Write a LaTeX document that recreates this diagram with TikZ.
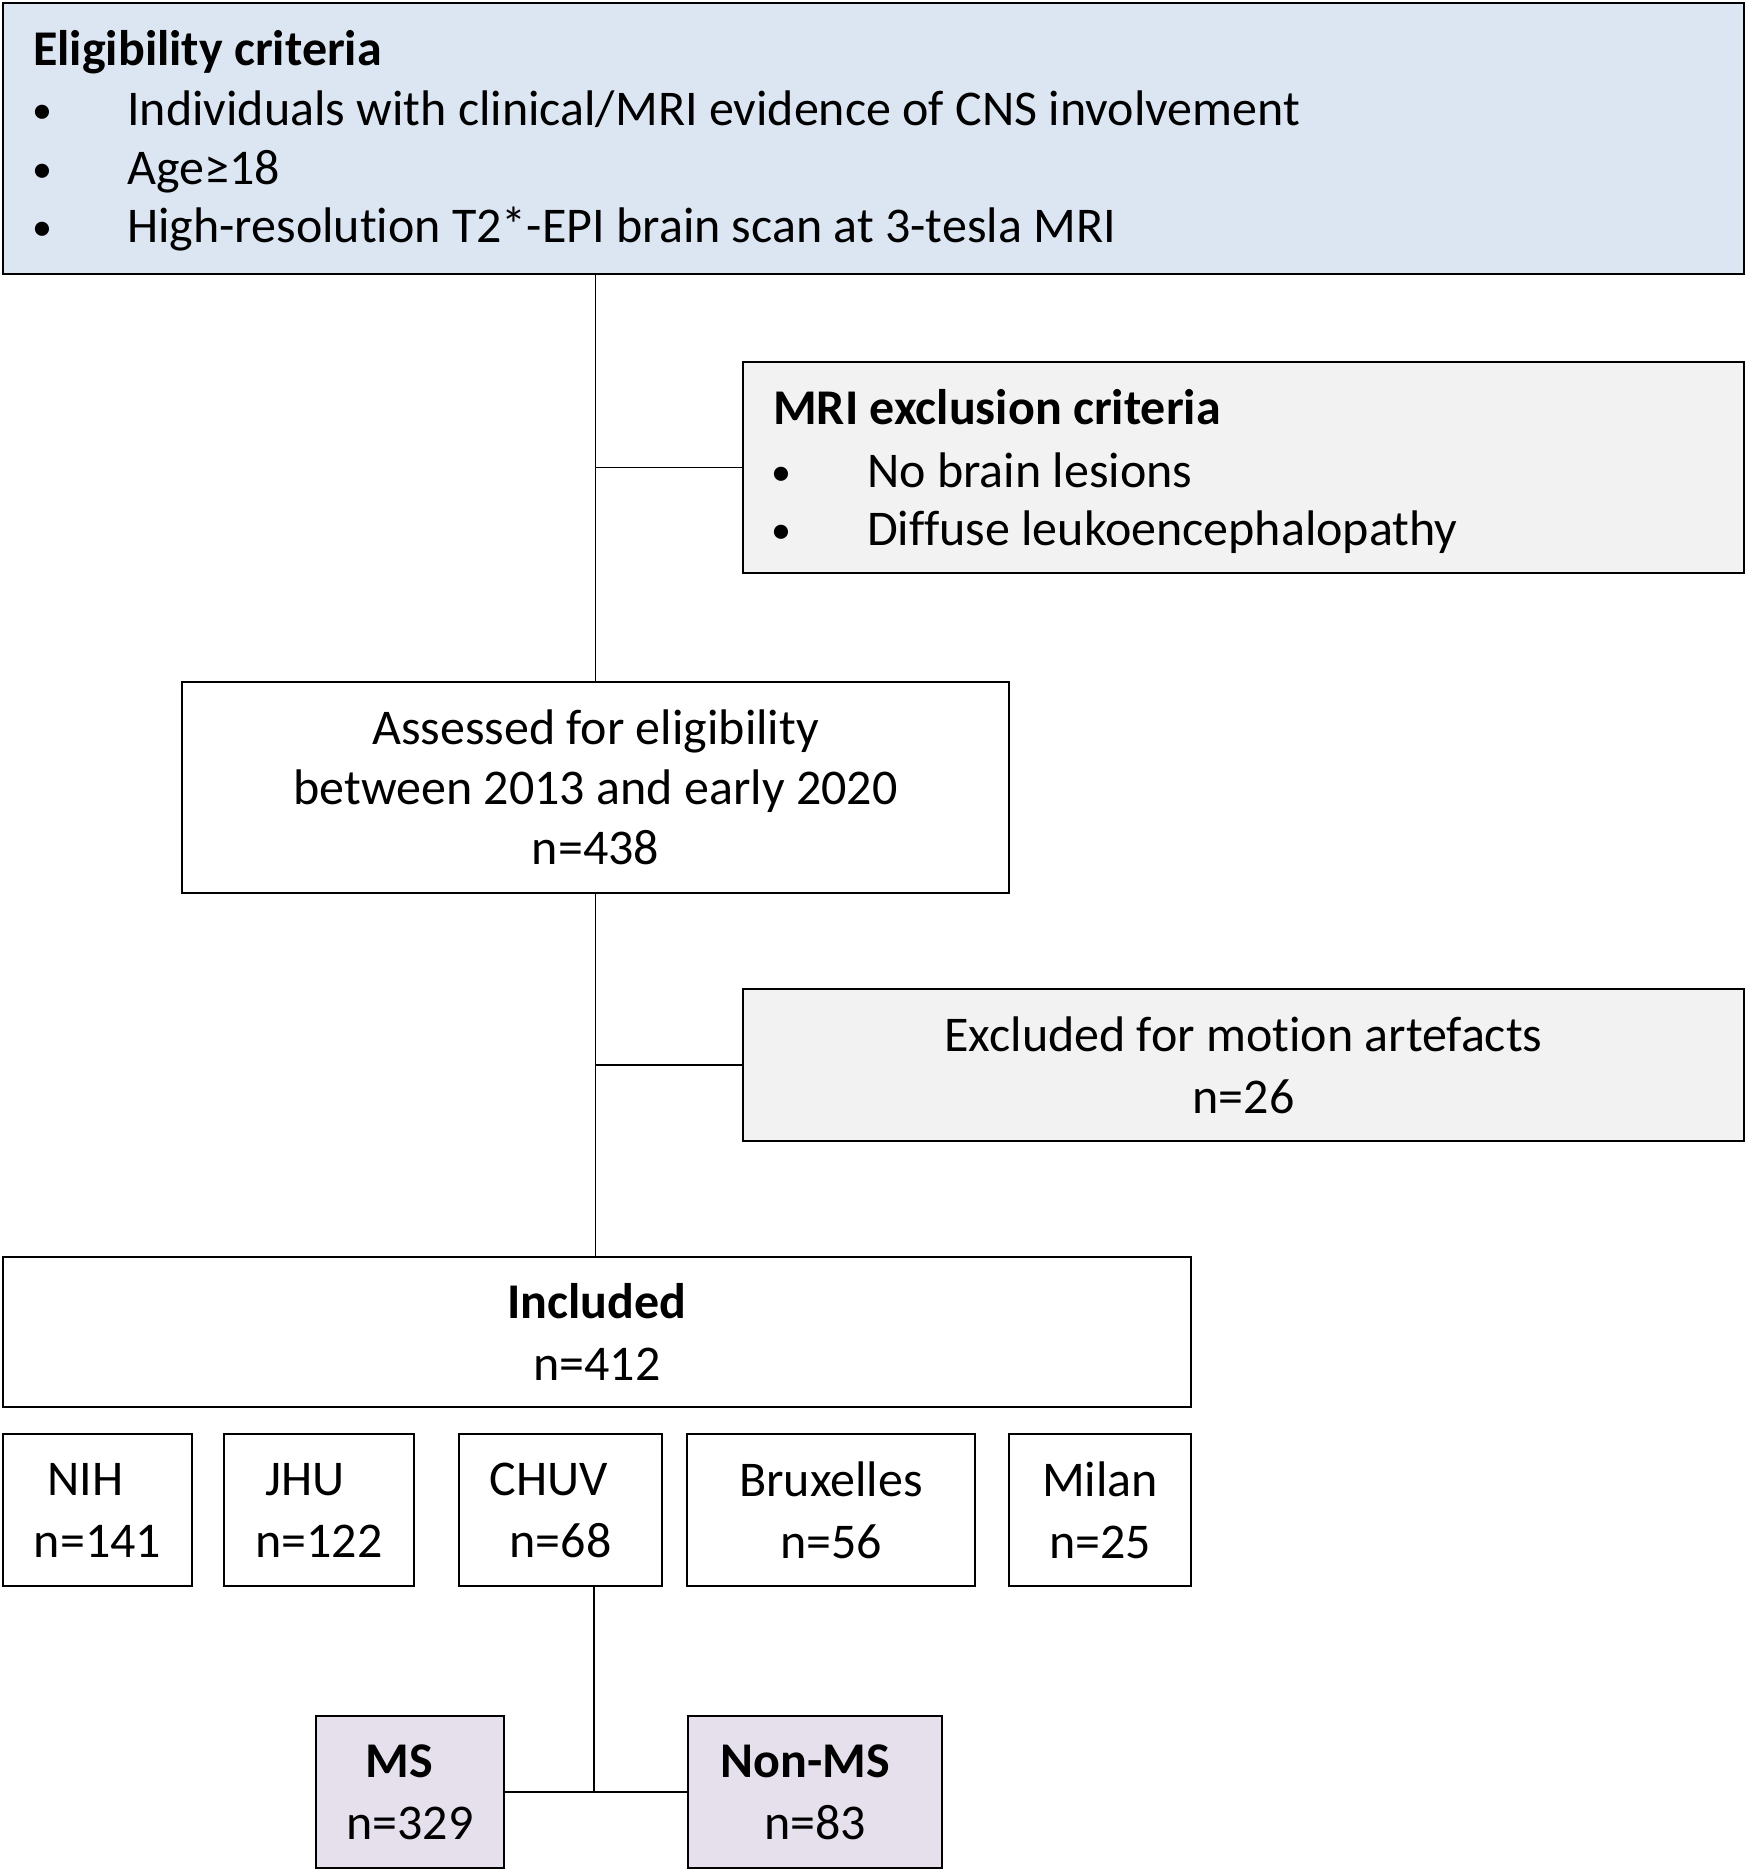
\documentclass[tikz,border=0pt]{standalone}
\usepackage{fontspec}
\setmainfont{Carlito}[Ligatures={TeX,NoCommon}]
\definecolor{eligblue}{HTML}{DCE6F2}
\definecolor{exgrey}{HTML}{F2F2F2}
\definecolor{lav}{HTML}{E5E0EC}
\newcommand{\blt}{{\fontsize{40}{40}\selectfont •}}
\begin{document}
\begin{tikzpicture}[x=1pt,y=-1pt,
  box/.style={draw=black, line width=2pt, inner sep=0pt, anchor=north west, align=center,
              font=\fontsize{50}{62}\selectfont},
  conn/.style={draw=black, line width=1.8pt},
  txt/.style={font=\fontsize{50}{62}\selectfont, inner sep=0pt},
]
\useasboundingbox (0,0) rectangle (1748,1870);

% boxes
\node[box, fill=eligblue, minimum width=1741pt, minimum height=271pt] (elig) at (2,2) {};
\node[box, fill=exgrey, minimum width=1001pt, minimum height=211pt] (mri) at (742,361) {};
\node[box, fill=white, minimum width=827pt, minimum height=211pt,
      font=\fontsize{50}{60}\selectfont] (assessed) at (181,681)
     {Assessed for eligibility\\between 2013 and early 2020\\n=438};
\node[box, fill=exgrey, minimum width=1001pt, minimum height=152pt] (motion) at (742,988)
     {Excluded for motion artefacts\\n=26};
\node[box, fill=white, minimum width=1188pt, minimum height=150pt] (included) at (2,1256)
     {\textbf{Included}\\n=412};
\node[box, minimum width=189pt, minimum height=152pt] (nih) at (2,1433)
     {\hspace*{-24pt}NIH\\n=141};
\node[box, minimum width=190pt, minimum height=152pt] (jhu) at (223,1433)
     {\hspace*{-28pt}JHU\\n=122};
\node[box, minimum width=203pt, minimum height=152pt] (chuv) at (458,1433)
     {\hspace*{-24pt}CHUV\\n=68};
\node[box, minimum width=288pt, minimum height=152pt] (brux) at (686,1433)
     {Bruxelles\\n=56};
\node[box, minimum width=182pt, minimum height=152pt] (milan) at (1008,1433)
     {Milan\\n=25};
\node[box, fill=lav, minimum width=188pt, minimum height=152pt] (ms) at (315,1715)
     {\hspace*{-22pt}\textbf{MS}\\n=329};
\node[box, fill=lav, minimum width=254pt, minimum height=152pt] (nonms) at (687,1715)
     {\hspace*{-20pt}\textbf{Non-MS}\\n=83};

% eligibility text
\node[txt, anchor=base west] (eligt) at (33,66) {\textbf{Eligibility criteria}};
\node[txt, anchor=base] (eb1) at (42,124) {\blt};
\node[txt, anchor=base west] (el1) at (127,126) {Individuals with clinical/MRI evidence of CNS involvement};
\node[txt, anchor=base] (eb2) at (42,183) {\blt};
\node[txt, anchor=base west] (el2) at (127,185) {Age≥18};
\node[txt, anchor=base] (eb3) at (42,241) {\blt};
\node[txt, anchor=base west] (el3) at (127,243) {High-resolution T2*-EPI brain scan at 3-tesla MRI};

% MRI exclusion text
\node[txt, anchor=base west] (mrit) at (773,424) {\textbf{MRI exclusion criteria}};
\node[txt, anchor=base] (mb1) at (781,485) {\blt};
\node[txt, anchor=base west] (ml1) at (867,487) {No brain lesions};
\node[txt, anchor=base] (mb2) at (781,543) {\blt};
\node[txt, anchor=base west] (ml2) at (867,545) {Diffuse leukoencephalopathy};

% connectors
\draw[conn] (elig.south -| assessed.north) -- (assessed.north);
\draw[conn] (mri.west) -- (mri.west -| assessed.north);
\draw[conn] (assessed.south) -- (assessed.south |- included.north);
\draw[conn] (motion.west) -- (motion.west -| assessed.south);
\coordinate (jn) at (594,1791);
\draw[conn] (jn |- chuv.south) -- (jn);
\draw[conn] (ms.east) -- (nonms.west);
\end{tikzpicture}
\end{document}
